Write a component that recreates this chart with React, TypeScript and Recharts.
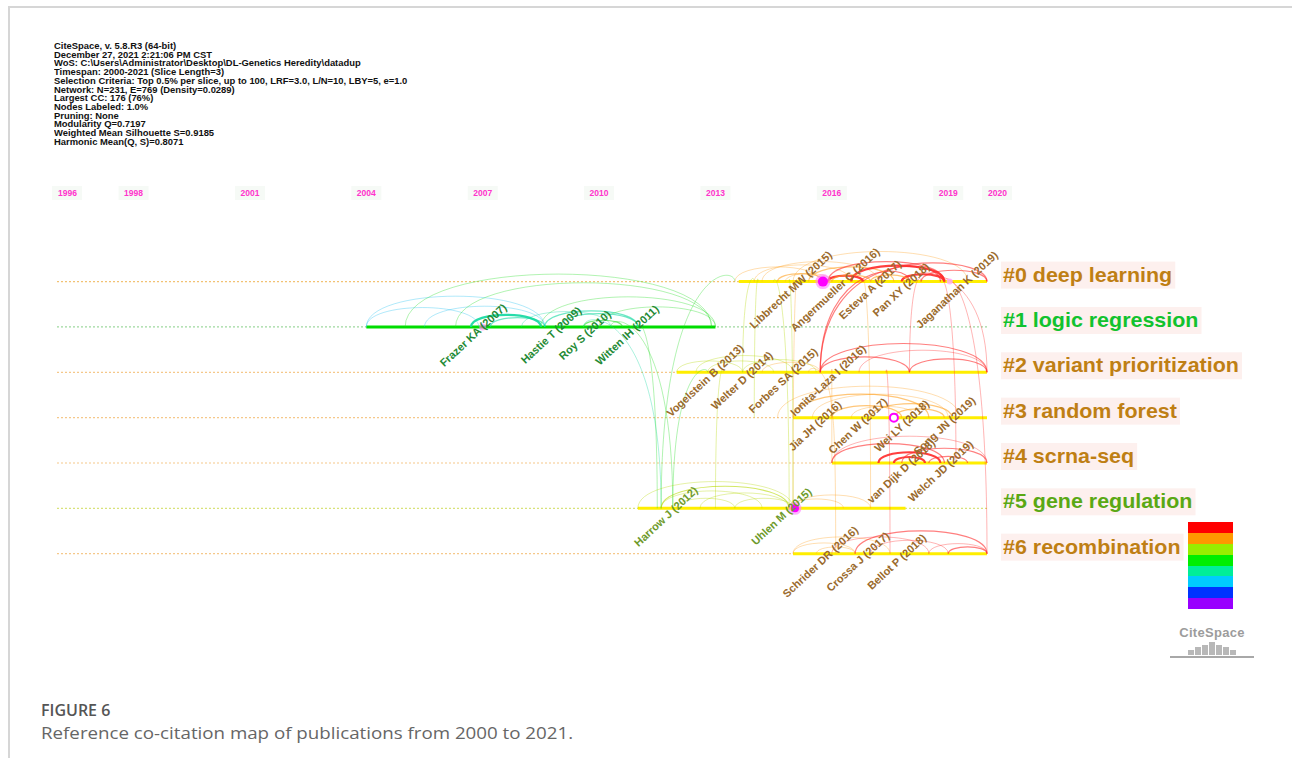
import React from "react";
import { ComposedChart, XAxis, YAxis, Scatter, ReferenceLine } from "recharts";

// timeline axis
const years = [1996, 1998, 2001, 2004, 2007, 2010, 2013, 2016, 2019, 2020];

// clusters (rows)
const clusterRows = [0, 1, 2, 3, 4, 5, 6];
const clusterNames = [
  "#0 deep learning",
  "#1 logic regression",
  "#2 variant prioritization",
  "#3 random forest",
  "#4 scrna-seq",
  "#5 gene regulation",
  "#6 recombination",
];
const clusterStart = [2013.6, 2004.0, 2012.0, 2015.0, 2016.0, 2011.0, 2015.0];
const clusterEnd = [2020.0, 2013.0, 2020.0, 2020.0, 2020.0, 2017.9, 2020.0];

// labelled references
const refNames = [
  "Libbrecht MW (2015)", "Angermueller C (2016)", "Esteva A (2017)", "Pan XY (2018)", "Jaganathan K (2019)",
  "Frazer KA (2007)", "Hastie T (2009)", "Roy S (2010)", "Witten IH (2011)",
  "Vogelstein B (2013)", "Welter D (2014)", "Forbes SA (2015)", "Ionita-Laza I (2016)",
  "Jia JH (2016)", "Chen W (2017)", "Wei LY (2018)", "Song JN (2019)",
  "van Dijk D (2018)", "Welch JD (2019)",
  "Harrow J (2012)", "Uhlen M (2015)",
  "Schrider DR (2016)", "Crossa J (2017)", "Bellot P (2018)",
];
const refRows = [0, 0, 0, 0, 0, 1, 1, 1, 1, 2, 2, 2, 2, 3, 3, 3, 3, 4, 4, 5, 5, 6, 6, 6];
const refTimes = [
  2014.94, 2016.08, 2016.98, 2017.78, 2019.22,
  2006.75, 2008.76, 2009.63, 2010.72,
  2012.73, 2013.68, 2014.74, 2015.9,
  2015.56, 2016.67, 2017.8, 2018.9,
  2017.78, 2018.8,
  2011.72, 2014.7,
  2015.7, 2016.67, 2017.67,
];

// highly cited nodes (magenta)
const hubRows = [0, 1, 3, 5, 0];
const hubTimes = [2015.77, 2007.0, 2017.6, 2015.05, 2019.04];
const hubCites = [6, 2, 4, 5, 3];

// co-citation links: [t1, row1, t2, row2, citing year, strength]
type Link = [number, number, number, number, number, number];
const deepLearningLinks: Link[] = [
  [2013.5, 0, 2015.7, 0, 2017, 1],
  [2014.0, 0, 2016.5, 0, 2017, 1],
  [2014.6, 0, 2015.8, 0, 2017, 2],
  [2014.8, 0, 2016.0, 0, 2018, 1],
  [2014.2, 0, 2017.2, 0, 2017, 1],
  [2015.0, 0, 2019.5, 0, 2019, 1],
  [2015.4, 0, 2017.6, 0, 2019, 2],
  [2015.9, 0, 2018.9, 0, 2020, 2],
  [2016.5, 0, 2018.9, 0, 2020, 3],
  [2017.2, 0, 2020.0, 0, 2020, 2],
  [2017.8, 0, 2018.9, 0, 2020, 3],
  [2015.9, 0, 2016.8, 0, 2020, 3],
  [2018.3, 0, 2020.0, 0, 2021, 2],
  [2016.0, 0, 2017.0, 0, 2018, 2],
  [2017.0, 0, 2018.0, 0, 2019, 2],
];
const logicLinks: Link[] = [
  [2004.0, 1, 2008.6, 1, 2007, 1],
  [2004.0, 1, 2006.9, 1, 2007, 1],
  [2005.5, 1, 2008.6, 1, 2007, 1],
  [2006.7, 1, 2008.5, 1, 2009, 3],
  [2007.2, 1, 2008.6, 1, 2009, 2],
  [2005.0, 1, 2012.9, 1, 2012, 1],
  [2006.3, 1, 2012.9, 1, 2012, 1],
  [2008.5, 1, 2013.0, 1, 2012, 1],
  [2008.6, 1, 2011.0, 1, 2010, 2],
  [2010.0, 1, 2013.0, 1, 2012, 1],
  [2008.0, 1, 2010.3, 1, 2010, 1],
  [2009.0, 1, 2011.0, 1, 2010, 2],
  [2009.6, 1, 2010.6, 1, 2011, 2],
];
const variantLinks: Link[] = [
  [2012.0, 2, 2013.7, 2, 2015, 1],
  [2012.5, 2, 2015.0, 2, 2015, 1],
  [2012.8, 2, 2014.5, 2, 2015, 1],
  [2013.7, 2, 2015.6, 2, 2016, 1],
  [2014.2, 2, 2015.7, 2, 2017, 1],
  [2015.7, 2, 2020.0, 2, 2021, 2],
  [2015.7, 2, 2018.0, 2, 2021, 2],
  [2018.0, 2, 2020.0, 2, 2021, 2],
  [2016.7, 2, 2020.0, 2, 2021, 1],
];
const forestLinks: Link[] = [
  [2014.6, 3, 2019.3, 3, 2018, 1],
  [2015.5, 3, 2019.0, 3, 2018, 1],
  [2015.0, 3, 2018.5, 3, 2018, 2],
  [2016.0, 3, 2017.8, 3, 2018, 2],
  [2017.0, 3, 2019.1, 3, 2019, 2],
  [2016.5, 3, 2018.2, 3, 2018, 1],
  [2017.6, 3, 2018.9, 3, 2019, 2],
];
const scrnaLinks: Link[] = [
  [2016.0, 4, 2018.9, 4, 2021, 2],
  [2016.0, 4, 2020.0, 4, 2021, 1],
  [2017.2, 4, 2018.8, 4, 2021, 3],
  [2017.8, 4, 2020.0, 4, 2021, 2],
  [2017.6, 4, 2018.4, 4, 2021, 3],
  [2018.5, 4, 2019.5, 4, 2021, 2],
];
const regulationLinks: Link[] = [
  [2011.6, 5, 2014.9, 5, 2014, 2],
  [2011.0, 5, 2015.0, 5, 2014, 1],
  [2012.6, 5, 2014.9, 5, 2014, 1],
  [2011.6, 5, 2014.2, 5, 2014, 1],
  [2012.0, 5, 2013.5, 5, 2014, 1],
  [2013.5, 5, 2015.0, 5, 2015, 1],
  [2015.0, 5, 2017.0, 5, 2017, 1],
  [2014.9, 5, 2016.3, 5, 2017, 1],
];
const recombinationLinks: Link[] = [
  [2015.0, 6, 2016.6, 6, 2018, 1],
  [2015.6, 6, 2016.6, 6, 2018, 1],
  [2015.0, 6, 2017.5, 6, 2018, 1],
  [2016.6, 6, 2020.0, 6, 2021, 2],
  [2017.0, 6, 2019.0, 6, 2021, 1],
  [2019.0, 6, 2020.0, 6, 2021, 2],
  [2016.0, 6, 2018.5, 6, 2020, 1],
  [2018.5, 6, 2020.0, 6, 2021, 1],
];
const crossLinks: Link[] = [
  [2010.3, 1, 2011.9, 5, 2011, 1],
  [2009.6, 1, 2011.6, 5, 2010, 1],
  [2011.0, 1, 2011.5, 5, 2012, 1],
  [2013.5, 0, 2011.6, 5, 2013, 1],
  [2012.8, 2, 2011.9, 5, 2013, 1],
  [2015.7, 2, 2018.0, 0, 2021, 2],
  [2015.7, 2, 2018.8, 0, 2021, 2],
  [2018.0, 2, 2018.3, 0, 2021, 1],
  [2018.0, 0, 2020.0, 2, 2021, 1],
  [2018.9, 0, 2020.0, 6, 2021, 1],
  [2018.8, 0, 2019.2, 4, 2021, 1],
  [2015.0, 5, 2015.1, 0, 2017, 1],
  [2014.9, 5, 2014.5, 0, 2016, 1],
  [2014.9, 0, 2015.0, 5, 2016, 1],
  [2016.0, 3, 2016.1, 6, 2018, 1],
  [2017.4, 2, 2017.5, 6, 2021, 1],
  [2016.8, 0, 2017.0, 5, 2018, 1],
  [2013.2, 2, 2013.0, 5, 2014, 1],
  [2014.1, 0, 2014.0, 3, 2016, 1],
  [2014.0, 0, 2013.7, 2, 2015, 1],
  [2016.0, 2, 2016.0, 4, 2019, 1],
  [2015.4, 2, 2016.0, 3, 2018, 1],
];

const headerLines = [
  "CiteSpace, v. 5.8.R3 (64-bit)",
  "December 27, 2021 2:21:06 PM CST",
  "WoS: C:\\Users\\Administrator\\Desktop\\DL-Genetics Heredity\\datadup",
  "Timespan: 2000-2021 (Slice Length=3)",
  "Selection Criteria: Top 0.5% per slice, up to 100, LRF=3.0, L/N=10, LBY=5, e=1.0",
  "Network: N=231, E=769 (Density=0.0289)",
  "Largest CC: 176 (76%)",
  "Nodes Labeled: 1.0%",
  "Pruning: None",
  "Modularity Q=0.7197",
  "Weighted Mean Silhouette S=0.9185",
  "Harmonic Mean(Q, S)=0.8071",
];

// colour key, newest first
const spectrum = ["#ff0000", "#ff9900", "#99ee00", "#00ee00", "#00ee99", "#00ccff", "#0033ff", "#9900ff"];

const FONT = "Arial, 'Liberation Sans', sans-serif";
const BROWN = "#bf7f14";
const clusterColor = [BROWN, "#12c22e", BROWN, BROWN, BROWN, "#5aa814", BROWN];
const dotColor = ["#f2c274", "#9ed89e", "#f5c88a", "#f5c88a", "#f5c88a", "#d8e27a", "#f5c88a"];
const refColor = ["#9a6a2c", "#1f8a35", "#9a6a2c", "#9a6a2c", "#9a6a2c", "#6e9a2a", "#9a6a2c"];

const allLinks: Link[] = [
  ...logicLinks,
  ...crossLinks,
  ...regulationLinks,
  ...variantLinks,
  ...forestLinks,
  ...recombinationLinks,
  ...deepLearningLinks,
  ...scrnaLinks,
];
const linkPoints = allLinks.flatMap(([t1, r1, t2, r2]) => [
  { x: t1, y: r1 },
  { x: t2, y: r2 },
]);
const refPoints = refNames.map((name, i) => ({ x: refTimes[i], y: refRows[i], name }));
const hubPoints = hubTimes.map((t, i) => ({ x: t, y: hubRows[i], cites: hubCites[i], idx: i }));

function yearColor(year: number) {
  const band = Math.min(7, Math.max(0, Math.floor((year - 2000) / 2.75)));
  const arc = ["#9900ff", "#0033ff", "#20c0f0", "#10d8a0", "#22dd22", "#b5d800", "#ffa020", "#ff2a2a"];
  return arc[band];
}

function ArcPaths({ points }: { points?: { x: number; y: number }[] }) {
  const pts = points || [];
  const out: React.ReactNode[] = [];
  for (let i = 0; i + 1 < pts.length; i += 2) {
    const a = pts[i];
    const b = pts[i + 1];
    const link = allLinks[i / 2];
    if (!a || !b || !link) continue;
    const dx = Math.abs(b.x - a.x);
    const top = Math.min(a.y, b.y) - Math.max(8, dx * 0.23);
    const w = link[5];
    out.push(
      <path
        key={i}
        d={`M${a.x},${a.y} C${a.x},${top} ${b.x},${top} ${b.x},${b.y}`}
        fill="none"
        stroke={yearColor(link[4])}
        strokeOpacity={w === 3 ? 0.9 : w === 2 ? 0.6 : 0.35}
        strokeWidth={w === 3 ? 2.2 : w === 2 ? 1.2 : 1}
      />
    );
  }
  return <g>{out}</g>;
}

function YearTick(props: any) {
  const { x, y, payload, index } = props;
  const first = index === 0;
  const last = payload.value === years[years.length - 1];
  const tx = first ? x + 2 : last ? x + 1 : x;
  const anchor = first || last ? "start" : "middle";
  const bx = first || last ? tx - 6 : tx - 15;
  return (
    <g>
      <rect x={bx} y={y - 7} width={30} height={14} fill="#f6faf6" />
      <text x={tx} y={y} textAnchor={anchor} dominantBaseline="central" fontSize={8.5} fontWeight="bold" fill="#ff33cc" fontFamily={FONT}>
        {payload.value}
      </text>
    </g>
  );
}

let measureCtx: CanvasRenderingContext2D | null = null;
function textWidth(s: string, font: string) {
  if (!measureCtx) measureCtx = document.createElement("canvas").getContext("2d");
  if (!measureCtx) return s.length * 10.5;
  measureCtx.font = font;
  return measureCtx.measureText(s).width;
}

function ClusterTick(props: any) {
  const { x, y, payload } = props;
  const r = payload.value as number;
  const name = clusterNames[r];
  const w = textWidth(name, `bold 19.5px ${FONT}`) * 1.1;
  return (
    <g>
      <rect x={x - 2} y={y - 20} width={w + 5} height={27} fill="#fdf0ee" />
      <text transform={`translate(${x},${y}) scale(1.1,1)`} fontSize={19.5} fontWeight="bold" fill={clusterColor[r]} fontFamily={FONT}>
        {name}
      </text>
    </g>
  );
}

function RefLabel(props: any) {
  const { cx, cy, payload } = props;
  return (
    <text
      transform={`translate(${cx},${cy + 8}) rotate(-43)`}
      textAnchor="middle"
      dominantBaseline="central"
      fontSize={11}
      fontWeight="bold"
      fill={refColor[payload.y]}
      fontFamily={FONT}
    >
      {payload.name}
    </text>
  );
}

function HubDot(props: any) {
  const { cx, cy, payload } = props;
  const r = payload.cites;
  if (payload.idx === 2) {
    return <circle cx={cx} cy={cy} r={r} fill="#fff" stroke="#ff00ff" strokeWidth={2} />;
  }
  if (payload.idx === 4) {
    return <circle cx={cx} cy={cy} r={r} fill="#ffaaff" opacity={0.8} />;
  }
  return (
    <g>
      <circle cx={cx} cy={cy} r={r + 1.5} fill="#ff80ff" opacity={0.6} />
      <circle cx={cx} cy={cy} r={r - 1} fill="#ff00ff" />
    </g>
  );
}

export default function App() {
  return (
    <div style={{ position: "absolute", left: 0, top: 0, width: 1292, height: 758, background: "#fff", overflow: "hidden", fontFamily: FONT }}>
      <div style={{ position: "absolute", left: 8, top: 6, right: 0, bottom: 0, borderLeft: "2px solid #d6d6d6", borderTop: "2px solid #d6d6d6" }} />

      <div style={{ position: "absolute", left: 54, top: 42, transform: "scaleX(1.107)", transformOrigin: "left top" }}>
        {headerLines.map((l) => (
          <div key={l} style={{ fontSize: 8.5, lineHeight: "8.7px", fontWeight: "bold", whiteSpace: "nowrap", color: "#111" }}>
            {l}
          </div>
        ))}
      </div>

      <div style={{ position: "absolute", left: 0, top: 0 }}>
        <ComposedChart width={1292} height={758} margin={{ top: 180, right: 5, bottom: 159, left: 56 }}>
          <XAxis
            xAxisId={0}
            dataKey="x"
            type="number"
            orientation="top"
            domain={[1996, 2020]}
            ticks={years}
            interval={0}
            height={20}
            axisLine={false}
            tickLine={false}
            tickSize={0}
            tickMargin={7}
            tick={<YearTick />}
          />
          <YAxis
            yAxisId={0}
            dataKey="y"
            type="number"
            orientation="right"
            domain={[-1.8, 7]}
            reversed
            ticks={clusterRows}
            interval={0}
            width={300}
            axisLine={false}
            tickLine={false}
            tickSize={0}
            tickMargin={16}
            tick={<ClusterTick />}
          />
          {clusterRows.map((r) => (
            <ReferenceLine key={`d${r}`} y={r} stroke={dotColor[r]} strokeDasharray="2 2" strokeWidth={1.2} />
          ))}
          {clusterRows.map((r) => (
            <ReferenceLine
              key={`s${r}`}
              segment={[
                { x: clusterStart[r], y: r },
                { x: clusterEnd[r], y: r },
              ]}
              stroke={r === 1 ? "#00dd00" : "#ffee00"}
              strokeWidth={3}
            />
          ))}
          <Scatter
            data={linkPoints}
            isAnimationActive={false}
            fill="none"
            shape={() => <g />}
            line={(p: any) => <ArcPaths points={p.points} />}
            lineType="joint"
          />
          <Scatter data={hubPoints} isAnimationActive={false} shape={<HubDot />} />
          <Scatter data={refPoints} isAnimationActive={false} shape={<RefLabel />} />
        </ComposedChart>
      </div>

      <div style={{ position: "absolute", left: 1188, top: 522, width: 45 }}>
        {spectrum.map((c) => (
          <div key={c} style={{ height: 10.9, background: c }} />
        ))}
      </div>

      <div style={{ position: "absolute", left: 1170, top: 625, width: 84, textAlign: "center" }}>
        <div style={{ fontSize: 13, fontWeight: "bold", color: "#9c9c9c", letterSpacing: 0.3 }}>CiteSpace</div>
        <div style={{ display: "flex", justifyContent: "center", alignItems: "flex-end", gap: 1, height: 14, marginTop: 1 }}>
          {[5, 8, 10, 13, 10, 8, 5].map((h, i) => (
            <div key={i} style={{ width: 6, height: h, background: "#b8b8b8" }} />
          ))}
        </div>
        <div style={{ height: 2, background: "#a8a8a8", marginTop: 1 }} />
      </div>

      <div style={{ position: "absolute", left: 41, top: 699, fontFamily: "'Open Sans', sans-serif", fontSize: 16, lineHeight: "23px" }}>
        <div style={{ fontWeight: 600, color: "#555" }}>FIGURE 6</div>
        <div style={{ color: "#666", whiteSpace: "nowrap", transform: "scaleX(1.17)", transformOrigin: "left top" }}>
          Reference co-citation map of publications from 2000 to 2021.
        </div>
      </div>
    </div>
  );
}
